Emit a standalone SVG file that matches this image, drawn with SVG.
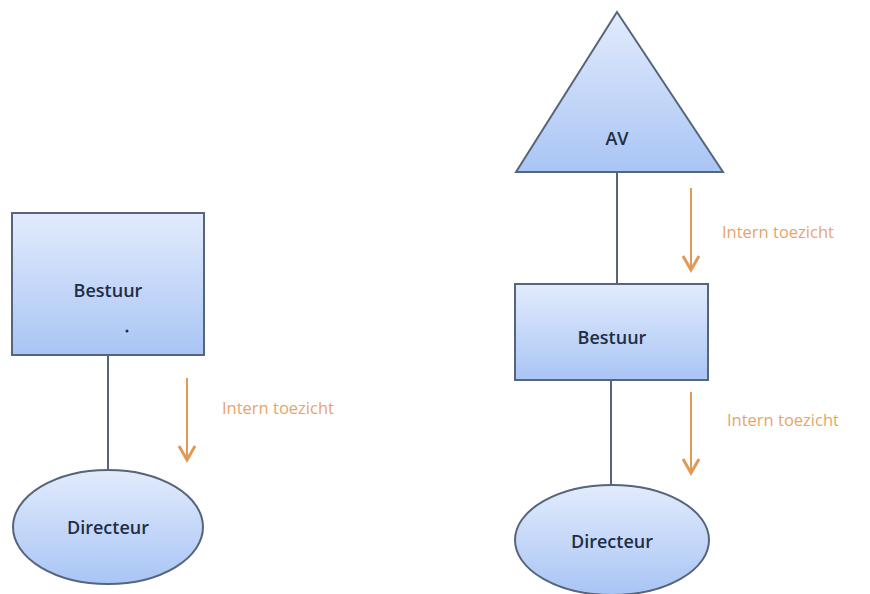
<svg xmlns="http://www.w3.org/2000/svg" width="870" height="594" viewBox="0 0 870 594">
<style>
.shape{stroke:#56657a;stroke-width:2}
.lbl{font-family:"Open Sans","DejaVu Sans",sans-serif;font-size:18px;font-weight:600;fill:#1f2d45;text-anchor:middle}
.ann{font-family:"Open Sans","DejaVu Sans",sans-serif;font-size:16.5px;fill:#e6a56a}
.conn{stroke:#56657a;stroke-width:2;fill:none}
.arr{stroke:#e09a55;stroke-width:2;fill:none}
.head{stroke:#e09a55;stroke-width:3;fill:none;stroke-linejoin:miter}
</style>
<defs>
<linearGradient id="g" x1="0" y1="0" x2="0" y2="1">
<stop offset="0" stop-color="#e2ebfc"/>
<stop offset="1" stop-color="#a9c5f5"/>
</linearGradient>
</defs>
<rect width="870" height="594" fill="#ffffff"/>
<g id="connectors">
<line class="conn" x1="108" y1="355" x2="108" y2="470"/>
<line class="conn" x1="617" y1="172" x2="617" y2="284"/>
<line class="conn" x1="611" y1="380" x2="611" y2="485"/>
<line class="arr" x1="187" y1="378" x2="187" y2="460"/>
<polyline class="head" points="179,446 187,460 195,446"/>
<line class="arr" x1="691" y1="188" x2="691" y2="270"/>
<polyline class="head" points="683,256 691,270 699,256"/>
<line class="arr" x1="691" y1="392" x2="691" y2="473"/>
<polyline class="head" points="683,459 691,473 699,459"/>
</g>
<g id="bestuur-left">
<rect class="shape" x="12" y="213" width="192" height="142" fill="url(#g)"/>
<text class="lbl" x="108" y="297">Bestuur</text>
<circle cx="127" cy="331" r="1.5" fill="#1f2d45"/>
</g>
<g id="directeur-left">
<ellipse class="shape" cx="108" cy="527" rx="95" ry="57" fill="url(#g)"/>
<text class="lbl" x="108" y="534">Directeur</text>
</g>
<text class="ann" x="222" y="414">Intern toezicht</text>
<g id="av">
<polygon class="shape" points="617,12 516,172 723,172" fill="url(#g)"/>
<text class="lbl" x="617" y="145">AV</text>
</g>
<g id="bestuur-right">
<rect class="shape" x="515" y="284" width="193" height="96" fill="url(#g)"/>
<text class="lbl" x="612" y="344">Bestuur</text>
</g>
<g id="directeur-right">
<ellipse class="shape" cx="612" cy="540" rx="97" ry="55" fill="url(#g)"/>
<text class="lbl" x="612" y="548">Directeur</text>
</g>
<text class="ann" x="722" y="238">Intern toezicht</text>
<text class="ann" x="727" y="426">Intern toezicht</text>
</svg>
